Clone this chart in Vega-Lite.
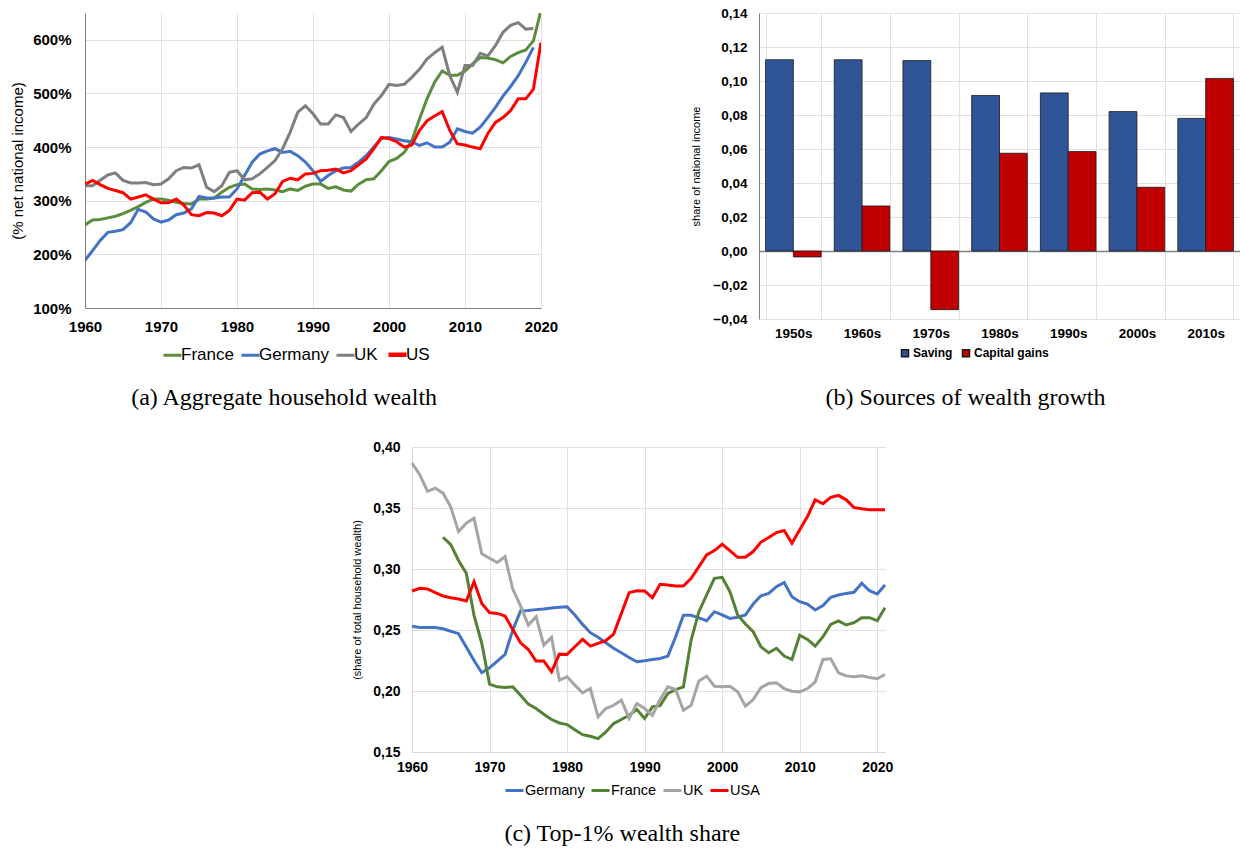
{
"$schema":"https://vega.github.io/schema/vega-lite/v6.json",
"padding":{"left":10,"top":6,"right":0,"bottom":0},
"config":{"view":{"stroke":null},"font":"Liberation Sans","axis":{"labelFont":"Liberation Sans","titleFont":"Liberation Sans","labelOverlap":false},"legend":{"labelFont":"Liberation Sans"}},
"datasets":{
"wealth":[
{"country":"France","year":1960,"value":255},{"country":"France","year":1961,"value":264},{"country":"France","year":1962,"value":265},{"country":"France","year":1963,"value":268},{"country":"France","year":1964,"value":271},{"country":"France","year":1965,"value":276},{"country":"France","year":1966,"value":282},{"country":"France","year":1967,"value":289},{"country":"France","year":1968,"value":297},{"country":"France","year":1969,"value":303},{"country":"France","year":1970,"value":303},{"country":"France","year":1971,"value":301},{"country":"France","year":1972,"value":297},{"country":"France","year":1973,"value":295},{"country":"France","year":1974,"value":294},{"country":"France","year":1975,"value":303},{"country":"France","year":1976,"value":303},{"country":"France","year":1977,"value":305},{"country":"France","year":1978,"value":316},{"country":"France","year":1979,"value":325},{"country":"France","year":1980,"value":330},{"country":"France","year":1981,"value":331},{"country":"France","year":1982,"value":322},{"country":"France","year":1983,"value":321},{"country":"France","year":1984,"value":322},{"country":"France","year":1985,"value":320},{"country":"France","year":1986,"value":317},{"country":"France","year":1987,"value":322},{"country":"France","year":1988,"value":319},{"country":"France","year":1989,"value":327},{"country":"France","year":1990,"value":331},{"country":"France","year":1991,"value":331},{"country":"France","year":1992,"value":323},{"country":"France","year":1993,"value":326},{"country":"France","year":1994,"value":320},{"country":"France","year":1995,"value":318},{"country":"France","year":1996,"value":331},{"country":"France","year":1997,"value":339},{"country":"France","year":1998,"value":341},{"country":"France","year":1999,"value":356},{"country":"France","year":2000,"value":373},{"country":"France","year":2001,"value":379},{"country":"France","year":2002,"value":390},{"country":"France","year":2003,"value":412},{"country":"France","year":2004,"value":452},{"country":"France","year":2005,"value":490},{"country":"France","year":2006,"value":521},{"country":"France","year":2007,"value":542},{"country":"France","year":2008,"value":534},{"country":"France","year":2009,"value":534},{"country":"France","year":2010,"value":542},{"country":"France","year":2011,"value":555},{"country":"France","year":2012,"value":567},{"country":"France","year":2013,"value":566},{"country":"France","year":2014,"value":563},{"country":"France","year":2015,"value":557},{"country":"France","year":2016,"value":569},{"country":"France","year":2017,"value":576},{"country":"France","year":2018,"value":581},{"country":"France","year":2019,"value":598},{"country":"France","year":2020,"value":655},
{"country":"Germany","year":1960,"value":189},{"country":"Germany","year":1961,"value":207},{"country":"Germany","year":1962,"value":226},{"country":"Germany","year":1963,"value":241},{"country":"Germany","year":1964,"value":243},{"country":"Germany","year":1965,"value":246},{"country":"Germany","year":1966,"value":259},{"country":"Germany","year":1967,"value":284},{"country":"Germany","year":1968,"value":279},{"country":"Germany","year":1969,"value":266},{"country":"Germany","year":1970,"value":260},{"country":"Germany","year":1971,"value":264},{"country":"Germany","year":1972,"value":274},{"country":"Germany","year":1973,"value":277},{"country":"Germany","year":1974,"value":285},{"country":"Germany","year":1975,"value":308},{"country":"Germany","year":1976,"value":305},{"country":"Germany","year":1977,"value":305},{"country":"Germany","year":1978,"value":307},{"country":"Germany","year":1979,"value":307},{"country":"Germany","year":1980,"value":322},{"country":"Germany","year":1981,"value":347},{"country":"Germany","year":1982,"value":372},{"country":"Germany","year":1983,"value":387},{"country":"Germany","year":1984,"value":393},{"country":"Germany","year":1985,"value":397},{"country":"Germany","year":1986,"value":390},{"country":"Germany","year":1987,"value":392},{"country":"Germany","year":1988,"value":384},{"country":"Germany","year":1989,"value":372},{"country":"Germany","year":1990,"value":356},{"country":"Germany","year":1991,"value":336},{"country":"Germany","year":1992,"value":347},{"country":"Germany","year":1993,"value":356},{"country":"Germany","year":1994,"value":361},{"country":"Germany","year":1995,"value":362},{"country":"Germany","year":1996,"value":372},{"country":"Germany","year":1997,"value":384},{"country":"Germany","year":1998,"value":400},{"country":"Germany","year":1999,"value":416},{"country":"Germany","year":2000,"value":418},{"country":"Germany","year":2001,"value":415},{"country":"Germany","year":2002,"value":412},{"country":"Germany","year":2003,"value":410},{"country":"Germany","year":2004,"value":403},{"country":"Germany","year":2005,"value":408},{"country":"Germany","year":2006,"value":400},{"country":"Germany","year":2007,"value":400},{"country":"Germany","year":2008,"value":409},{"country":"Germany","year":2009,"value":434},{"country":"Germany","year":2010,"value":429},{"country":"Germany","year":2011,"value":426},{"country":"Germany","year":2012,"value":437},{"country":"Germany","year":2013,"value":455},{"country":"Germany","year":2014,"value":474},{"country":"Germany","year":2015,"value":495},{"country":"Germany","year":2016,"value":513},{"country":"Germany","year":2017,"value":533},{"country":"Germany","year":2018,"value":558},{"country":"Germany","year":2019,"value":586},
{"country":"UK","year":1960,"value":328},{"country":"UK","year":1961,"value":328},{"country":"UK","year":1962,"value":338},{"country":"UK","year":1963,"value":348},{"country":"UK","year":1964,"value":352},{"country":"UK","year":1965,"value":338},{"country":"UK","year":1966,"value":333},{"country":"UK","year":1967,"value":333},{"country":"UK","year":1968,"value":334},{"country":"UK","year":1969,"value":330},{"country":"UK","year":1970,"value":331},{"country":"UK","year":1971,"value":341},{"country":"UK","year":1972,"value":356},{"country":"UK","year":1973,"value":362},{"country":"UK","year":1974,"value":361},{"country":"UK","year":1975,"value":367},{"country":"UK","year":1976,"value":325},{"country":"UK","year":1977,"value":317},{"country":"UK","year":1978,"value":328},{"country":"UK","year":1979,"value":353},{"country":"UK","year":1980,"value":356},{"country":"UK","year":1981,"value":339},{"country":"UK","year":1982,"value":341},{"country":"UK","year":1983,"value":350},{"country":"UK","year":1984,"value":362},{"country":"UK","year":1985,"value":375},{"country":"UK","year":1986,"value":397},{"country":"UK","year":1987,"value":428},{"country":"UK","year":1988,"value":465},{"country":"UK","year":1989,"value":477},{"country":"UK","year":1990,"value":462},{"country":"UK","year":1991,"value":443},{"country":"UK","year":1992,"value":443},{"country":"UK","year":1993,"value":460},{"country":"UK","year":1994,"value":455},{"country":"UK","year":1995,"value":429},{"country":"UK","year":1996,"value":443},{"country":"UK","year":1997,"value":455},{"country":"UK","year":1998,"value":480},{"country":"UK","year":1999,"value":496},{"country":"UK","year":2000,"value":517},{"country":"UK","year":2001,"value":515},{"country":"UK","year":2002,"value":517},{"country":"UK","year":2003,"value":530},{"country":"UK","year":2004,"value":545},{"country":"UK","year":2005,"value":564},{"country":"UK","year":2006,"value":576},{"country":"UK","year":2007,"value":586},{"country":"UK","year":2008,"value":533},{"country":"UK","year":2009,"value":502},{"country":"UK","year":2010,"value":552},{"country":"UK","year":2011,"value":552},{"country":"UK","year":2012,"value":575},{"country":"UK","year":2013,"value":570},{"country":"UK","year":2014,"value":589},{"country":"UK","year":2015,"value":614},{"country":"UK","year":2016,"value":627},{"country":"UK","year":2017,"value":632},{"country":"UK","year":2018,"value":620},{"country":"UK","year":2019,"value":621},
{"country":"US","year":1960,"value":331},{"country":"US","year":1961,"value":338},{"country":"US","year":1962,"value":330},{"country":"US","year":1963,"value":323},{"country":"US","year":1964,"value":319},{"country":"US","year":1965,"value":315},{"country":"US","year":1966,"value":303},{"country":"US","year":1967,"value":307},{"country":"US","year":1968,"value":311},{"country":"US","year":1969,"value":303},{"country":"US","year":1970,"value":296},{"country":"US","year":1971,"value":296},{"country":"US","year":1972,"value":303},{"country":"US","year":1973,"value":292},{"country":"US","year":1974,"value":274},{"country":"US","year":1975,"value":272},{"country":"US","year":1976,"value":278},{"country":"US","year":1977,"value":277},{"country":"US","year":1978,"value":272},{"country":"US","year":1979,"value":282},{"country":"US","year":1980,"value":303},{"country":"US","year":1981,"value":301},{"country":"US","year":1982,"value":315},{"country":"US","year":1983,"value":316},{"country":"US","year":1984,"value":303},{"country":"US","year":1985,"value":313},{"country":"US","year":1986,"value":336},{"country":"US","year":1987,"value":342},{"country":"US","year":1988,"value":339},{"country":"US","year":1989,"value":350},{"country":"US","year":1990,"value":351},{"country":"US","year":1991,"value":356},{"country":"US","year":1992,"value":357},{"country":"US","year":1993,"value":359},{"country":"US","year":1994,"value":352},{"country":"US","year":1995,"value":356},{"country":"US","year":1996,"value":367},{"country":"US","year":1997,"value":378},{"country":"US","year":1998,"value":397},{"country":"US","year":1999,"value":418},{"country":"US","year":2000,"value":416},{"country":"US","year":2001,"value":410},{"country":"US","year":2002,"value":400},{"country":"US","year":2003,"value":404},{"country":"US","year":2004,"value":431},{"country":"US","year":2005,"value":449},{"country":"US","year":2006,"value":458},{"country":"US","year":2007,"value":466},{"country":"US","year":2008,"value":431},{"country":"US","year":2009,"value":406},{"country":"US","year":2010,"value":404},{"country":"US","year":2011,"value":400},{"country":"US","year":2012,"value":397},{"country":"US","year":2013,"value":425},{"country":"US","year":2014,"value":446},{"country":"US","year":2015,"value":455},{"country":"US","year":2016,"value":468},{"country":"US","year":2017,"value":490},{"country":"US","year":2018,"value":490},{"country":"US","year":2019,"value":508},{"country":"US","year":2020,"value":595}
],
"growth":[
{"decade":"1950s","type":"Saving","value":0.1125},{"decade":"1950s","type":"Capital gains","value":-0.0035},
{"decade":"1960s","type":"Saving","value":0.1125},{"decade":"1960s","type":"Capital gains","value":0.0265},
{"decade":"1970s","type":"Saving","value":0.112},{"decade":"1970s","type":"Capital gains","value":-0.0345},
{"decade":"1980s","type":"Saving","value":0.0915},{"decade":"1980s","type":"Capital gains","value":0.0575},
{"decade":"1990s","type":"Saving","value":0.093},{"decade":"1990s","type":"Capital gains","value":0.0585},
{"decade":"2000s","type":"Saving","value":0.082},{"decade":"2000s","type":"Capital gains","value":0.0375},
{"decade":"2010s","type":"Saving","value":0.078},{"decade":"2010s","type":"Capital gains","value":0.1015}
],
"top1":[
{"country":"Germany","year":1960,"value":0.253},{"country":"Germany","year":1961,"value":0.252},{"country":"Germany","year":1962,"value":0.252},{"country":"Germany","year":1963,"value":0.252},{"country":"Germany","year":1964,"value":0.251},{"country":"Germany","year":1965,"value":0.249},{"country":"Germany","year":1966,"value":0.247},{"country":"Germany","year":1967,"value":0.236},{"country":"Germany","year":1968,"value":0.225},{"country":"Germany","year":1969,"value":0.215},{"country":"Germany","year":1970,"value":0.219},{"country":"Germany","year":1971,"value":0.2245},{"country":"Germany","year":1972,"value":0.23},{"country":"Germany","year":1973,"value":0.25},{"country":"Germany","year":1974,"value":0.2656},{"country":"Germany","year":1975,"value":0.266},{"country":"Germany","year":1976,"value":0.2667},{"country":"Germany","year":1977,"value":0.2672},{"country":"Germany","year":1978,"value":0.268},{"country":"Germany","year":1979,"value":0.2686},{"country":"Germany","year":1980,"value":0.269},{"country":"Germany","year":1981,"value":0.2623},{"country":"Germany","year":1982,"value":0.2546},{"country":"Germany","year":1983,"value":0.2478},{"country":"Germany","year":1984,"value":0.244},{"country":"Germany","year":1985,"value":0.2395},{"country":"Germany","year":1986,"value":0.235},{"country":"Germany","year":1987,"value":0.2313},{"country":"Germany","year":1988,"value":0.2275},{"country":"Germany","year":1989,"value":0.224},{"country":"Germany","year":1990,"value":0.2248},{"country":"Germany","year":1991,"value":0.2258},{"country":"Germany","year":1992,"value":0.2267},{"country":"Germany","year":1993,"value":0.2286},{"country":"Germany","year":1994,"value":0.2445},{"country":"Germany","year":1995,"value":0.262},{"country":"Germany","year":1996,"value":0.262},{"country":"Germany","year":1997,"value":0.26},{"country":"Germany","year":1998,"value":0.2576},{"country":"Germany","year":1999,"value":0.265},{"country":"Germany","year":2000,"value":0.2623},{"country":"Germany","year":2001,"value":0.2595},{"country":"Germany","year":2002,"value":0.2604},{"country":"Germany","year":2003,"value":0.2623},{"country":"Germany","year":2004,"value":0.2713},{"country":"Germany","year":2005,"value":0.278},{"country":"Germany","year":2006,"value":0.28},{"country":"Germany","year":2007,"value":0.2855},{"country":"Germany","year":2008,"value":0.289},{"country":"Germany","year":2009,"value":0.2773},{"country":"Germany","year":2010,"value":0.2732},{"country":"Germany","year":2011,"value":0.2713},{"country":"Germany","year":2012,"value":0.2664},{"country":"Germany","year":2013,"value":0.27},{"country":"Germany","year":2014,"value":0.2768},{"country":"Germany","year":2015,"value":0.2787},{"country":"Germany","year":2016,"value":0.28},{"country":"Germany","year":2017,"value":0.2809},{"country":"Germany","year":2018,"value":0.2883},{"country":"Germany","year":2019,"value":0.2822},{"country":"Germany","year":2020,"value":0.2795},{"country":"Germany","year":2021,"value":0.2869},
{"country":"France","year":1964,"value":0.326},{"country":"France","year":1965,"value":0.32},{"country":"France","year":1966,"value":0.307},{"country":"France","year":1967,"value":0.2965},{"country":"France","year":1968,"value":0.262},{"country":"France","year":1969,"value":0.239},{"country":"France","year":1970,"value":0.2056},{"country":"France","year":1971,"value":0.2034},{"country":"France","year":1972,"value":0.2028},{"country":"France","year":1973,"value":0.2034},{"country":"France","year":1974,"value":0.1966},{"country":"France","year":1975,"value":0.1892},{"country":"France","year":1976,"value":0.1856},{"country":"France","year":1977,"value":0.181},{"country":"France","year":1978,"value":0.1766},{"country":"France","year":1979,"value":0.1738},{"country":"France","year":1980,"value":0.1725},{"country":"France","year":1981,"value":0.1683},{"country":"France","year":1982,"value":0.1642},{"country":"France","year":1983,"value":0.1629},{"country":"France","year":1984,"value":0.161},{"country":"France","year":1985,"value":0.1664},{"country":"France","year":1986,"value":0.1733},{"country":"France","year":1987,"value":0.1766},{"country":"France","year":1988,"value":0.1801},{"country":"France","year":1989,"value":0.1848},{"country":"France","year":1990,"value":0.1774},{"country":"France","year":1991,"value":0.187},{"country":"France","year":1992,"value":0.1881},{"country":"France","year":1993,"value":0.198},{"country":"France","year":1994,"value":0.2012},{"country":"France","year":1995,"value":0.2034},{"country":"France","year":1996,"value":0.2417},{"country":"France","year":1997,"value":0.265},{"country":"France","year":1998,"value":0.2787},{"country":"France","year":1999,"value":0.2924},{"country":"France","year":2000,"value":0.2932},{"country":"France","year":2001,"value":0.2814},{"country":"France","year":2002,"value":0.2623},{"country":"France","year":2003,"value":0.2549},{"country":"France","year":2004,"value":0.2486},{"country":"France","year":2005,"value":0.2363},{"country":"France","year":2006,"value":0.2313},{"country":"France","year":2007,"value":0.235},{"country":"France","year":2008,"value":0.2286},{"country":"France","year":2009,"value":0.2258},{"country":"France","year":2010,"value":0.2458},{"country":"France","year":2011,"value":0.2423},{"country":"France","year":2012,"value":0.2368},{"country":"France","year":2013,"value":0.2445},{"country":"France","year":2014,"value":0.2546},{"country":"France","year":2015,"value":0.2574},{"country":"France","year":2016,"value":0.2541},{"country":"France","year":2017,"value":0.256},{"country":"France","year":2018,"value":0.2601},{"country":"France","year":2019,"value":0.2601},{"country":"France","year":2020,"value":0.2576},{"country":"France","year":2021,"value":0.2683},
{"country":"UK","year":1960,"value":0.3869},{"country":"UK","year":1961,"value":0.3773},{"country":"UK","year":1962,"value":0.3636},{"country":"UK","year":1963,"value":0.3663},{"country":"UK","year":1964,"value":0.3622},{"country":"UK","year":1965,"value":0.3507},{"country":"UK","year":1966,"value":0.3307},{"country":"UK","year":1967,"value":0.3376},{"country":"UK","year":1968,"value":0.3417},{"country":"UK","year":1969,"value":0.3124},{"country":"UK","year":1970,"value":0.3088},{"country":"UK","year":1971,"value":0.3053},{"country":"UK","year":1972,"value":0.3102},{"country":"UK","year":1973,"value":0.2834},{"country":"UK","year":1974,"value":0.2697},{"country":"UK","year":1975,"value":0.254},{"country":"UK","year":1976,"value":0.2609},{"country":"UK","year":1977,"value":0.2376},{"country":"UK","year":1978,"value":0.2439},{"country":"UK","year":1979,"value":0.2089},{"country":"UK","year":1980,"value":0.2116},{"country":"UK","year":1981,"value":0.2048},{"country":"UK","year":1982,"value":0.1985},{"country":"UK","year":1983,"value":0.202},{"country":"UK","year":1984,"value":0.1788},{"country":"UK","year":1985,"value":0.1856},{"country":"UK","year":1986,"value":0.1883},{"country":"UK","year":1987,"value":0.1924},{"country":"UK","year":1988,"value":0.1774},{"country":"UK","year":1989,"value":0.1897},{"country":"UK","year":1990,"value":0.1856},{"country":"UK","year":1991,"value":0.1801},{"country":"UK","year":1992,"value":0.193},{"country":"UK","year":1993,"value":0.2034},{"country":"UK","year":1994,"value":0.2012},{"country":"UK","year":1995,"value":0.1842},{"country":"UK","year":1996,"value":0.1883},{"country":"UK","year":1997,"value":0.2083},{"country":"UK","year":1998,"value":0.2122},{"country":"UK","year":1999,"value":0.2039},{"country":"UK","year":2000,"value":0.2034},{"country":"UK","year":2001,"value":0.2039},{"country":"UK","year":2002,"value":0.1993},{"country":"UK","year":2003,"value":0.1875},{"country":"UK","year":2004,"value":0.193},{"country":"UK","year":2005,"value":0.2028},{"country":"UK","year":2006,"value":0.2061},{"country":"UK","year":2007,"value":0.2067},{"country":"UK","year":2008,"value":0.202},{"country":"UK","year":2009,"value":0.1998},{"country":"UK","year":2010,"value":0.1993},{"country":"UK","year":2011,"value":0.202},{"country":"UK","year":2012,"value":0.2075},{"country":"UK","year":2013,"value":0.2258},{"country":"UK","year":2014,"value":0.2264},{"country":"UK","year":2015,"value":0.2149},{"country":"UK","year":2016,"value":0.2124},{"country":"UK","year":2017,"value":0.2116},{"country":"UK","year":2018,"value":0.2124},{"country":"UK","year":2019,"value":0.2111},{"country":"UK","year":2020,"value":0.21},{"country":"UK","year":2021,"value":0.2135},
{"country":"USA","year":1960,"value":0.282},{"country":"USA","year":1961,"value":0.2842},{"country":"USA","year":1962,"value":0.2836},{"country":"USA","year":1963,"value":0.2806},{"country":"USA","year":1964,"value":0.2779},{"country":"USA","year":1965,"value":0.2765},{"country":"USA","year":1966,"value":0.2754},{"country":"USA","year":1967,"value":0.2738},{"country":"USA","year":1968,"value":0.2896},{"country":"USA","year":1969,"value":0.2718},{"country":"USA","year":1970,"value":0.2642},{"country":"USA","year":1971,"value":0.2636},{"country":"USA","year":1972,"value":0.2614},{"country":"USA","year":1973,"value":0.2505},{"country":"USA","year":1974,"value":0.2395},{"country":"USA","year":1975,"value":0.234},{"country":"USA","year":1976,"value":0.2245},{"country":"USA","year":1977,"value":0.2245},{"country":"USA","year":1978,"value":0.2157},{"country":"USA","year":1979,"value":0.2302},{"country":"USA","year":1980,"value":0.23},{"country":"USA","year":1981,"value":0.2363},{"country":"USA","year":1982,"value":0.2423},{"country":"USA","year":1983,"value":0.2368},{"country":"USA","year":1984,"value":0.239},{"country":"USA","year":1985,"value":0.2412},{"country":"USA","year":1986,"value":0.2467},{"country":"USA","year":1987,"value":0.2636},{"country":"USA","year":1988,"value":0.2806},{"country":"USA","year":1989,"value":0.2822},{"country":"USA","year":1990,"value":0.282},{"country":"USA","year":1991,"value":0.2765},{"country":"USA","year":1992,"value":0.2875},{"country":"USA","year":1993,"value":0.2869},{"country":"USA","year":1994,"value":0.2861},{"country":"USA","year":1995,"value":0.2861},{"country":"USA","year":1996,"value":0.2924},{"country":"USA","year":1997,"value":0.302},{"country":"USA","year":1998,"value":0.3116},{"country":"USA","year":1999,"value":0.3151},{"country":"USA","year":2000,"value":0.3203},{"country":"USA","year":2001,"value":0.3151},{"country":"USA","year":2002,"value":0.3096},{"country":"USA","year":2003,"value":0.3096},{"country":"USA","year":2004,"value":0.3143},{"country":"USA","year":2005,"value":0.322},{"country":"USA","year":2006,"value":0.3258},{"country":"USA","year":2007,"value":0.3299},{"country":"USA","year":2008,"value":0.3316},{"country":"USA","year":2009,"value":0.3211},{"country":"USA","year":2010,"value":0.3321},{"country":"USA","year":2011,"value":0.343},{"country":"USA","year":2012,"value":0.3567},{"country":"USA","year":2013,"value":0.3535},{"country":"USA","year":2014,"value":0.3587},{"country":"USA","year":2015,"value":0.3603},{"country":"USA","year":2016,"value":0.3567},{"country":"USA","year":2017,"value":0.3504},{"country":"USA","year":2018,"value":0.3493},{"country":"USA","year":2019,"value":0.3485},{"country":"USA","year":2020,"value":0.3485},{"country":"USA","year":2021,"value":0.3485}
]
},
"spacing":30,
"resolve":{"scale":{"color":"independent","x":"independent","y":"independent"},"legend":{"color":"independent"}},
"vconcat":[
{"hconcat":[
{
"width":456,"height":295,
"data":{"name":"wealth"},
"mark":{"type":"line","clip":true},
"encoding":{
"x":{"field":"year","type":"quantitative","scale":{"domain":[1960,2020],"nice":false,"zero":false},"axis":{"title":null,"values":[1960,1970,1980,1990,2000,2010,2020],"format":"d","labelFontSize":15,"labelFontWeight":"bold","labelColor":"#000","ticks":false,"labelPadding":11,"labelFlush":false,"labelOverlap":false,"domainColor":"#808080","gridColor":"#e0e0e0"}},
"y":{"field":"value","type":"quantitative","scale":{"domain":[100,650],"nice":false,"zero":false},"axis":{"title":"(% net national income)","titleFontSize":15,"titleFontWeight":"normal","titleColor":"#000","titlePadding":7,"values":[100,200,300,400,500,600],"labelExpr":"datum.value + '%'","labelFontSize":15,"labelFontWeight":"bold","labelColor":"#000","ticks":false,"labelPadding":14,"labelOverlap":false,"domainColor":"#808080","gridColor":"#e0e0e0"}},
"color":{"field":"country","type":"nominal","scale":{"domain":["France","Germany","UK","US"],"range":["#5B8E3C","#4472C4","#7F7F7F","#FF0000"]},"legend":{"orient":"none","legendX":79,"legendY":333,"direction":"horizontal","title":null,"symbolType":"stroke","symbolSize":324,"labelFontSize":17,"labelColor":"#000","labelOffset":0,"columnPadding":1,"encode":{"symbols":{"update":{"strokeWidth":{"signal":"datum.value === 'US' ? 4.5 : 3"}}}}}},
"strokeWidth":{"field":"country","type":"nominal","scale":{"domain":["France","Germany","UK","US"],"range":[3,3,3,4.5]},"legend":null}
},
"title":{"text":"(a) Aggregate household wealth","orient":"bottom","anchor":"middle","frame":"bounds","font":"Liberation Serif","fontSize":24,"fontWeight":"normal","color":"#000","offset":22}
},
{
"width":481,"height":306,
"data":{"name":"growth"},
"mark":{"type":"bar","stroke":"#1a1a1a","strokeWidth":0.8},
"encoding":{
"x":{"field":"decade","type":"nominal","sort":null,"scale":{"paddingInner":0.19,"paddingOuter":0.095},"axis":{"title":null,"labelAngle":0,"labelFontSize":13.5,"labelFontWeight":"bold","labelColor":"#000","ticks":false,"domain":false,"grid":true,"tickBand":"extent","gridColor":"#e0e0e0","labelPadding":7}},
"xOffset":{"field":"type","type":"nominal","sort":["Saving","Capital gains"]},
"y":{"field":"value","type":"quantitative","scale":{"domain":[-0.04,0.14],"nice":false,"zero":false},"axis":{"title":"share of national income","titleFontSize":11,"titleFontWeight":"normal","titleColor":"#000","titlePadding":11,"values":[-0.04,-0.02,0,0.02,0.04,0.06,0.08,0.1,0.12,0.14],"labelExpr":"replace(format(datum.value,'.2f'),'.',',')","labelFontSize":13.5,"labelFontWeight":"bold","labelColor":"#000","ticks":false,"labelPadding":12,"labelOverlap":false,"labelSeparation":0,"domainColor":"#808080","gridColor":{"condition":{"test":"datum.value === 0","value":"#808080"},"value":"#e0e0e0"},"gridWidth":{"condition":{"test":"datum.value === 0","value":1.3},"value":1}}},
"color":{"field":"type","type":"nominal","scale":{"domain":["Saving","Capital gains"],"range":["#2F5597","#C00000"]},"legend":{"orient":"none","legendX":140,"legendY":334,"direction":"horizontal","title":null,"symbolType":"square","symbolSize":49,"labelFontSize":12,"labelFontWeight":"bold","labelColor":"#000","labelOffset":2,"columnPadding":6}}
},
"title":{"text":"(b) Sources of wealth growth","orient":"bottom","anchor":"middle","frame":"bounds","font":"Liberation Serif","fontSize":24,"fontWeight":"normal","color":"#000","offset":26}
}
],"spacing":218,"bounds":"flush","resolve":{"scale":{"color":"independent","x":"independent","y":"independent"},"legend":{"color":"independent"}}},
{"hconcat":[
{"width":307,"height":10,"data":{"values":[]},"mark":{"type":"point","opacity":0},"encoding":{}},
{
"width":473,"height":305,
"data":{"name":"top1"},
"mark":{"type":"line","strokeWidth":3},
"encoding":{
"x":{"field":"year","type":"quantitative","scale":{"domain":[1960,2021],"nice":false,"zero":false},"axis":{"title":null,"values":[1960,1970,1980,1990,2000,2010,2020],"format":"d","labelFontSize":14,"labelFontWeight":"bold","labelColor":"#000","ticks":false,"labelPadding":8,"labelFlush":false,"labelOverlap":false,"domainColor":"#d9d9d9","gridColor":"#e0e0e0"}},
"y":{"field":"value","type":"quantitative","scale":{"domain":[0.15,0.4],"nice":false,"zero":false},"axis":{"title":"(share of total household wealth)","titleFontSize":11,"titleFontWeight":"normal","titleColor":"#000","titlePadding":10,"values":[0.15,0.2,0.25,0.3,0.35,0.4],"labelExpr":"replace(format(datum.value,'.2f'),'.',',')","labelFontSize":14,"labelFontWeight":"bold","labelColor":"#000","ticks":false,"labelPadding":12,"labelOverlap":false,"domainColor":"#d9d9d9","gridColor":"#e0e0e0"}},
"color":{"field":"country","type":"nominal","scale":{"domain":["Germany","France","UK","USA"],"range":["#4472C4","#548235","#A5A5A5","#FF0000"]},"legend":{"orient":"none","legendX":92,"legendY":333,"direction":"horizontal","title":null,"symbolType":"stroke","symbolSize":324,"symbolStrokeWidth":3,"labelFontSize":14.5,"labelColor":"#000","labelOffset":0,"columnPadding":0}}
},
"title":{"text":"(c) Top-1% wealth share","orient":"bottom","anchor":"middle","frame":"bounds","font":"Liberation Serif","fontSize":24,"fontWeight":"normal","color":"#000","offset":25}
}
],"spacing":20,"bounds":"flush","resolve":{"scale":{"color":"independent","x":"independent","y":"independent"},"legend":{"color":"independent"}}}
]
}
